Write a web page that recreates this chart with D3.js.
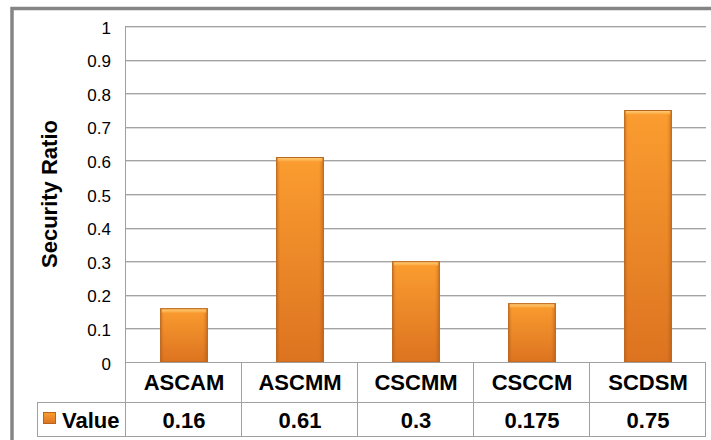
<!DOCTYPE html>
<html>
<head>
<meta charset="utf-8">
<script src="https://cdn.jsdelivr.net/npm/d3@7"></script>
<style>
  html, body { margin: 0; padding: 0; background: #fff; }
  svg { display: block; font-family: "Liberation Sans", Arial, sans-serif; }
</style>
</head>
<body>
<svg id="chart" width="711" height="440"></svg>
<script>
// Security ratio per scheme
const categories = ["ASCAM", "ASCMM", "CSCMM", "CSCCM", "SCDSM"];
const values = [0.16, 0.61, 0.3, 0.175, 0.75];
const valueLabels = ["0.16", "0.61", "0.3", "0.175", "0.75"];
const yTicks = [0, 0.1, 0.2, 0.3, 0.4, 0.5, 0.6, 0.7, 0.8, 0.9, 1];
const seriesName = "Value";
const axisTitle = "Security Ratio";

const FONT = "'Liberation Sans', Arial, sans-serif";
const svg = d3.select("#chart");
const plot = { left: 126, right: 706, top: 26, bottom: 362 };
const table = { left: 37, catBottom: 402, valBottom: 436 };

const x = d3.scaleBand().domain(categories).range([plot.left, plot.right]).paddingInner(0.59).paddingOuter(0.295);
const xCell = d3.scaleBand().domain(categories).range([plot.left, plot.right]);
const y = d3.scaleLinear().domain([0, 1]).range([plot.bottom, plot.top]);

// gradients for the bars
const defs = svg.append("defs");
const gv = defs.append("linearGradient").attr("id", "barV").attr("x1", 0).attr("y1", 0).attr("x2", 0).attr("y2", 1);
gv.append("stop").attr("offset", "0%").attr("stop-color", "#FB9D30");
gv.append("stop").attr("offset", "100%").attr("stop-color", "#DC7320");
const gh = defs.append("linearGradient").attr("id", "barH").attr("x1", 0).attr("y1", 0).attr("x2", 1).attr("y2", 0);
gh.append("stop").attr("offset", "0%").attr("stop-color", "#9a4a10").attr("stop-opacity", 0.35);
gh.append("stop").attr("offset", "8%").attr("stop-color", "#9a4a10").attr("stop-opacity", 0.0);
gh.append("stop").attr("offset", "90%").attr("stop-color", "#9a4a10").attr("stop-opacity", 0.0);
gh.append("stop").attr("offset", "100%").attr("stop-color", "#9a4a10").attr("stop-opacity", 0.4);
const gt = defs.append("linearGradient").attr("id", "barTop").attr("x1", 0).attr("y1", 0).attr("x2", 0).attr("y2", 1);
gt.append("stop").attr("offset", "0%").attr("stop-color", "#FFD27A");
gt.append("stop").attr("offset", "100%").attr("stop-color", "#FBA23A");

// outer frame
svg.append("rect").attr("x", 12).attr("y", 8.5).attr("width", 760).attr("height", 500)
  .attr("fill", "none").attr("stroke", "#858585").attr("stroke-width", 3.5);

// gridlines with a soft shadow line below
const grid = svg.append("g");
grid.selectAll("line.shadow").data(yTicks.filter(d => d > 0)).join("line")
  .attr("class", "shadow")
  .attr("x1", plot.left).attr("x2", plot.right)
  .attr("y1", d => Math.round(y(d)) + 1.5).attr("y2", d => Math.round(y(d)) + 1.5)
  .attr("stroke", "#dcdcdc").attr("stroke-width", 1);
grid.selectAll("line.main").data(yTicks.filter(d => d > 0)).join("line")
  .attr("class", "main")
  .attr("x1", plot.left).attr("x2", plot.right)
  .attr("y1", d => Math.round(y(d)) + 0.5).attr("y2", d => Math.round(y(d)) + 0.5)
  .attr("stroke", "#a3a3a3").attr("stroke-width", 1);

// y axis labels
const yAxis = d3.axisLeft(y).tickValues(yTicks).tickFormat(d3.format("~g")).tickSize(0).tickPadding(15);
const ya = svg.append("g").attr("transform", `translate(${plot.left},0)`).call(yAxis)
  .attr("font-family", FONT).attr("font-size", 17);
ya.select(".domain").remove();
ya.selectAll("text").attr("fill", "#000").attr("dy", "0.42em");

// axis title
svg.append("text").attr("transform", `translate(57,${(plot.top + plot.bottom) / 2}) rotate(-90)`)
  .attr("text-anchor", "middle").attr("font-family", FONT).attr("font-size", 22)
  .attr("font-weight", "bold").text(axisTitle);

// bars
const bars = svg.append("g").selectAll("g").data(categories.map((c, i) => ({ c, v: values[i] }))).join("g");
bars.append("rect")
  .attr("x", d => x(d.c)).attr("width", x.bandwidth())
  .attr("y", d => y(d.v)).attr("height", d => y(0) - y(d.v))
  .attr("fill", "url(#barV)");
bars.append("rect")
  .attr("x", d => x(d.c)).attr("width", x.bandwidth())
  .attr("y", d => y(d.v)).attr("height", d => y(0) - y(d.v))
  .attr("fill", "url(#barH)");
bars.append("rect")
  .attr("x", d => x(d.c) + 1.5).attr("width", x.bandwidth() - 3)
  .attr("y", d => y(d.v) + 0.5).attr("height", 4)
  .attr("fill", "url(#barTop)");
bars.append("rect")
  .attr("x", d => x(d.c) + 0.5).attr("width", x.bandwidth() - 1)
  .attr("y", d => y(d.v) + 0.5).attr("height", d => y(0) - y(d.v) - 0.5)
  .attr("fill", "none").attr("stroke", "#B9641E").attr("stroke-width", 1);

// data table
const tbl = svg.append("g").attr("stroke", "#a0a0a0").attr("stroke-width", 1);
tbl.append("line").attr("x1", plot.left).attr("x2", plot.right).attr("y1", plot.bottom + 0.5).attr("y2", plot.bottom + 0.5);
tbl.append("line").attr("x1", table.left).attr("x2", plot.right).attr("y1", table.catBottom + 0.5).attr("y2", table.catBottom + 0.5);
tbl.append("line").attr("x1", table.left).attr("x2", plot.right).attr("y1", table.valBottom + 0.5).attr("y2", table.valBottom + 0.5);
tbl.append("line").attr("x1", table.left + 0.5).attr("x2", table.left + 0.5).attr("y1", table.catBottom).attr("y2", table.valBottom + 1);
tbl.selectAll("line.v").data(categories).join("line").attr("class", "v")
  .attr("x1", d => xCell(d) + xCell.bandwidth() - 0.5).attr("x2", d => xCell(d) + xCell.bandwidth() - 0.5)
  .attr("y1", plot.bottom).attr("y2", table.valBottom + 1);
// value axis line
tbl.append("line").attr("x1", plot.left - 0.5).attr("x2", plot.left - 0.5)
  .attr("y1", plot.top).attr("y2", table.valBottom + 1);

const txt = svg.append("g").attr("font-family", FONT).attr("font-weight", "bold")
  .attr("font-size", 22).attr("text-anchor", "middle");
txt.selectAll("text.cat").data(categories).join("text").attr("class", "cat")
  .attr("x", d => xCell(d) + xCell.bandwidth() / 2).attr("y", 390).text(d => d);
txt.selectAll("text.val").data(valueLabels).join("text").attr("class", "val")
  .attr("x", (d, i) => xCell(categories[i]) + xCell.bandwidth() / 2).attr("y", 427.5).text(d => d);

// legend key + series name
svg.append("rect").attr("x", 43.5).attr("y", 412.5).attr("width", 12).attr("height", 11)
  .attr("fill", "url(#barV)").attr("stroke", "#B9641E");
svg.append("text").attr("x", 62).attr("y", 427.5).attr("font-family", FONT)
  .attr("font-weight", "bold").attr("font-size", 22).text(seriesName);
</script>
</body>
</html>
